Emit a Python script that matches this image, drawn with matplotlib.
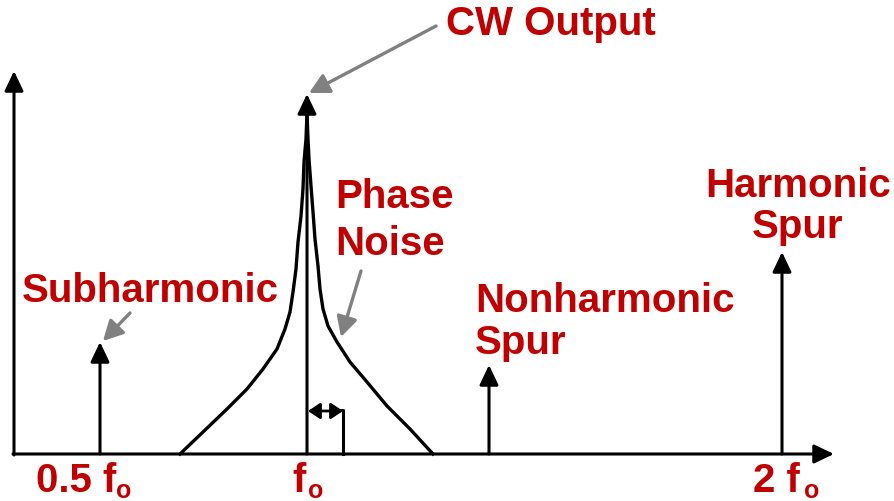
import matplotlib.pyplot as plt
import numpy as np

plt.rcParams['font.family'] = ['Liberation Sans', 'DejaVu Sans']

RED = '#C00000'
GREY = '#808080'

# positions along the (schematic) frequency axis, origin at the axis corner
spur_x = [86, 293, 475, 768]      # 0.5 fo, fo, nonharmonic, 2 fo
spur_h = [112, 360, 89, 202]      # subharmonic, CW, nonharmonic spur, harmonic spur
axis_x_end = 820
axis_y_end = 383

# phase noise skirt around fo (offset from fo, height)
pn_left_off = [-127, -104, -80, -60, -44, -30, -22, -17, -14, -11, -9, -6, -4, -3, -1, 0]
pn_left_h = [0, 22, 45, 65, 85, 105, 125, 142, 162, 185, 212, 238, 265, 292, 315, 340]
pn_right_off = [0, 1, 2, 4, 6, 8, 11, 13, 16, 21, 30, 43, 60, 80, 103, 126]
pn_right_h = [340, 315, 295, 268, 242, 215, 188, 165, 145, 128, 112, 92, 72, 48, 25, 0]

# offset marker next to the carrier
offset_dx = 36
offset_h = 44

tick_main = ['0.5 f', 'f', '2 f']
tick_sub = ['o', 'o', 'o']
tick_left = [22, 278, 739]        # left edge of the main part
tick_sub_left = [102, 294, 790]   # left edge of the subscript

fig = plt.figure(figsize=(8.94, 5.02), dpi=100)
ax = fig.add_axes([0, 0, 1, 1])
ax.set_xlim(-14, 880)
ax.set_ylim(-47, 455)
ax.axis('off')

big = dict(arrowstyle='-|>,head_length=0.8,head_width=0.38', lw=2.2, color='black',
           mutation_scale=15, shrinkA=0, shrinkB=0)

# axes with arrowheads
ax.annotate('', xy=(0, axis_y_end), xytext=(0, -1), arrowprops=big)
ax.annotate('', xy=(axis_x_end, 0), xytext=(-1, 0), arrowprops=big)

# spurs / carrier
for x, h in zip(spur_x, spur_h):
    ax.annotate('', xy=(x, h), xytext=(x, 0), arrowprops=big)

# phase noise skirt
f0 = spur_x[1]
ax.plot(f0 + np.array(pn_left_off), pn_left_h, color='black', lw=2.4, solid_joinstyle='round')
ax.plot(f0 + np.array(pn_right_off), pn_right_h, color='black', lw=2.4, solid_joinstyle='round')

# offset marker
ax.plot([f0 + offset_dx, f0 + offset_dx, f0 + offset_dx - 4], [0, offset_h, offset_h],
        color='black', lw=2.2)
ax.annotate('', xy=(f0 + 1, offset_h - 1), xytext=(f0 + offset_dx, offset_h - 1),
            arrowprops=dict(arrowstyle='<|-|>,head_length=0.6,head_width=0.4', lw=2,
                            color='black', mutation_scale=12, shrinkA=0, shrinkB=0))

# grey pointer arrows
grey = dict(arrowstyle='-|>,head_length=0.8,head_width=0.42', lw=2.4, color=GREY,
            mutation_scale=15, shrinkA=0, shrinkB=0)
ax.annotate('', xy=(f0 + 2, spur_h[1] + 1), xytext=(422, 428), arrowprops=grey)
ax.annotate('', xy=(spur_x[0] + 3, spur_h[0] + 1), xytext=(116, 141), arrowprops=grey)
ax.annotate('', xy=(327, 117), xytext=(347, 183), arrowprops=grey)

# labels (x = left edge, y = baseline, both in pixels from the axis corner)
txt = dict(color=RED, fontsize=29, fontweight='bold', va='baseline')
ax.text(537, 455 - 35, 'CW Output', ha='center', **txt)
ax.text(321, 455 - 208, 'Phase', ha='left', **txt)
ax.text(321, 455 - 255, 'Noise', ha='left', **txt)
ax.text(8, 455 - 302, 'Subharmonic', ha='left', **txt)
ax.text(461, 455 - 312, 'Nonharmonic', ha='left', **txt)
ax.text(461, 455 - 354, 'Spur', ha='left', **txt)
ax.text(784, 455 - 197, 'Harmonic', ha='center', **txt)
ax.text(784, 455 - 238, 'Spur', ha='center', **txt)

for main, sub, xm, xs in zip(tick_main, tick_sub, tick_left, tick_sub_left):
    ax.text(xm, 455 - 492, main, ha='left', **txt)
    ax.text(xs, 455 - 498, sub, ha='left', color=RED, fontsize=18,
            fontweight='bold', va='baseline')

fig.savefig('out.png', dpi=100)
